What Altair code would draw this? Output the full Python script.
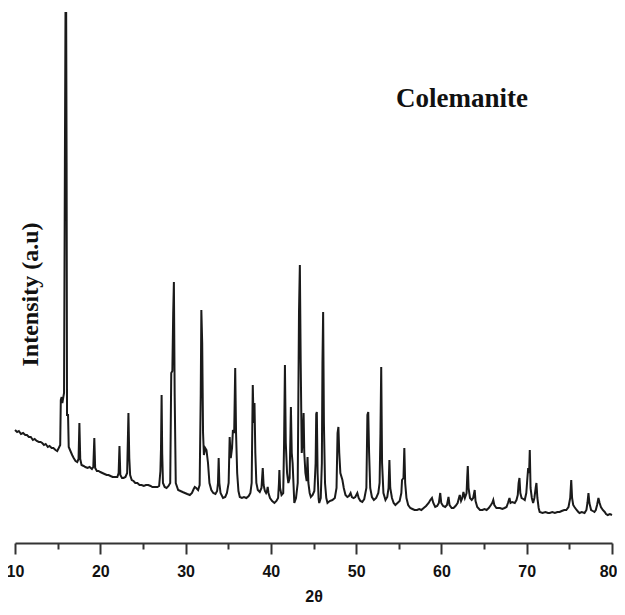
import altair as alt
import pandas as pd

# 2-theta positions (degrees)
two_theta = [
    10.00, 10.25, 10.45, 10.70, 10.95, 11.20, 11.40, 11.63, 11.85, 12.10,
    12.30, 12.55, 12.80, 13.00, 13.19, 13.40, 13.60, 13.85, 14.05, 14.30,
    14.50, 14.75, 14.95, 15.13, 15.30, 15.37, 15.47, 15.55, 15.75, 15.85,
    15.92, 16.00, 16.05, 16.10, 16.22, 16.30, 16.50, 16.70, 16.88, 17.10,
    17.30, 17.45, 17.55, 17.65, 17.80, 18.05, 18.25, 18.50, 18.75, 19.02,
    19.18, 19.30, 19.40, 19.60, 19.80, 20.00, 20.25, 20.50, 20.75, 20.97,
    21.20, 21.45, 21.75, 22.00, 22.15, 22.25, 22.35, 22.55, 22.72, 22.95,
    23.15, 23.30, 23.40, 23.50, 23.69, 23.90, 24.10, 24.35, 24.60, 24.85,
    25.10, 25.35, 25.63, 25.90, 26.10, 26.42, 26.70, 26.90, 27.05, 27.12,
    27.19, 27.26, 27.35, 27.55, 27.77, 28.00, 28.20, 28.32, 28.45, 28.55,
    28.63, 28.72, 28.85, 29.13, 29.40, 29.65, 29.92, 30.20, 30.50, 30.75,
    30.95, 31.08, 31.25, 31.47, 31.65, 31.78, 31.85, 31.95, 32.05, 32.15,
    32.30, 32.45, 32.63, 32.80, 33.02, 33.25, 33.50, 33.70, 33.80, 33.88,
    33.96, 34.10, 34.39, 34.65, 34.85, 35.05, 35.17, 35.30, 35.45, 35.55,
    35.70, 35.82, 35.92, 36.05, 36.20, 36.36, 36.60, 36.85, 37.13, 37.40,
    37.60, 37.75, 37.88, 37.98, 38.08, 38.18, 38.30, 38.47, 38.70, 38.90,
    39.05, 39.15, 39.30, 39.44, 39.55, 39.63, 39.72, 39.90, 40.15, 40.42,
    40.65, 40.85, 40.95, 41.00, 41.08, 41.25, 41.45, 41.55, 41.65, 41.75,
    41.90, 42.05, 42.20, 42.30, 42.35, 42.45, 42.55, 42.65, 42.75, 42.95,
    43.15, 43.30, 43.40, 43.50, 43.62, 43.72, 43.84, 43.92, 44.05, 44.20,
    44.30, 44.40, 44.55, 44.69, 44.90, 45.10, 45.25, 45.32, 45.39, 45.48,
    45.60, 45.67, 45.85, 45.98, 46.05, 46.13, 46.22, 46.35, 46.50, 46.64,
    46.90, 47.22, 47.50, 47.70, 47.82, 47.92, 48.02, 48.15, 48.39, 48.55,
    48.75, 48.97, 49.15, 49.35, 49.50, 49.70, 49.90, 50.14, 50.30, 50.50,
    50.72, 50.95, 51.20, 51.32, 51.42, 51.52, 51.65, 51.85, 52.08, 52.35,
    52.60, 52.75, 52.85, 52.94, 53.04, 53.20, 53.44, 53.65, 53.80, 53.90,
    54.00, 54.20, 54.40, 54.60, 54.85, 55.10, 55.30, 55.38, 55.55, 55.65,
    55.75, 55.90, 56.10, 56.35, 56.60, 56.85, 57.14, 57.40, 57.65, 57.92,
    58.20, 58.50, 58.70, 58.89, 59.05, 59.27, 59.50, 59.70, 59.86, 59.98,
    60.20, 60.44, 60.65, 60.83, 60.95, 61.20, 61.42, 61.65, 61.90, 62.05,
    62.15, 62.30, 62.45, 62.58, 62.75, 62.95, 63.02, 63.09, 63.18, 63.35,
    63.55, 63.72, 63.90, 64.00, 64.20, 64.52, 64.80, 65.05, 65.30, 65.55,
    65.80, 65.95, 66.08, 66.20, 66.45, 66.86, 67.15, 67.40, 67.63, 67.80,
    67.98, 68.10, 68.30, 68.60, 68.80, 68.95, 69.05, 69.15, 69.25, 69.40,
    69.60, 69.77, 69.95, 70.08, 70.17, 70.28, 70.36, 70.45, 70.60, 70.75,
    70.90, 71.05, 71.14, 71.25, 71.40, 71.52, 71.85, 72.20, 72.50, 72.69,
    73.00, 73.30, 73.60, 73.86, 74.10, 74.40, 74.64, 74.90, 75.10, 75.22,
    75.32, 75.45, 75.60, 75.85, 76.05, 76.19, 76.45, 76.78, 77.00, 77.12,
    77.24, 77.35, 77.55, 77.75, 77.94, 78.10, 78.25, 78.41, 78.55, 78.70,
    78.92, 79.15, 79.30, 79.50, 79.75, 80.00,
]

# intensity (arbitrary units)
intensity = [
    113, 111, 112, 109, 110, 108, 108, 106, 106, 103,
    104, 102, 101, 101, 100, 98, 99, 96, 97, 95,
    95, 93, 92, 95, 98, 143, 146, 140, 150, 380,
    530, 530, 380, 128, 128, 96, 92, 88, 85, 82,
    81, 84, 120, 84, 78, 77, 76, 75, 76, 74,
    76, 105, 75, 72, 72, 71, 70, 69, 68, 68,
    67, 66, 66, 66, 70, 97, 68, 65, 65, 66,
    70, 130, 85, 68, 63, 62, 60, 60, 58, 58,
    57, 58, 58, 57, 56, 56, 56, 57, 72, 95,
    148, 90, 60, 56, 55, 57, 60, 170, 172, 230,
    261, 150, 60, 53, 52, 51, 50, 49, 48, 50,
    54, 56, 55, 53, 58, 150, 233, 200, 110, 88,
    95, 93, 80, 60, 53, 50, 49, 52, 60, 85,
    60, 50, 45, 46, 50, 60, 106, 85, 95, 113,
    110, 175, 110, 70, 52, 46, 45, 46, 45, 47,
    50, 60, 158, 120, 140, 90, 60, 53, 51, 55,
    75, 58, 52, 50, 52, 56, 50, 45, 42, 40,
    42, 45, 60, 73, 55, 48, 50, 100, 178, 100,
    70, 60, 65, 110, 136, 90, 80, 60, 40, 45,
    60, 231, 278, 180, 90, 100, 130, 90, 70, 62,
    86, 60, 50, 46, 48, 52, 80, 129, 131, 70,
    44, 40, 45, 80, 180, 231, 120, 60, 45, 40,
    42, 43, 45, 55, 110, 116, 90, 70, 63, 55,
    48, 46, 47, 50, 46, 45, 46, 50, 45, 42,
    41, 44, 55, 128, 131, 90, 55, 46, 43, 45,
    50, 60, 110, 176, 80, 50, 43, 46, 55, 83,
    55, 45, 40, 38, 40, 42, 50, 63, 65, 95,
    60, 45, 38, 35, 34, 33, 33, 34, 33, 35,
    37, 40, 43, 45, 40, 36, 37, 40, 50, 40,
    37, 36, 38, 46, 38, 35, 35, 37, 40, 45,
    48, 42, 45, 51, 45, 50, 65, 77, 55, 45,
    43, 45, 53, 42, 36, 33, 33, 34, 33, 35,
    38, 40, 43, 38, 35, 35, 34, 35, 36, 40,
    45, 40, 41, 40, 43, 48, 60, 65, 50, 45,
    44, 43, 50, 65, 75, 70, 93, 55, 45, 40,
    45, 55, 60, 45, 35, 31, 30, 31, 30, 30,
    31, 30, 31, 31, 32, 33, 33, 36, 45, 63,
    45, 38, 36, 33, 31, 30, 31, 30, 33, 40,
    50, 40, 33, 32, 31, 33, 38, 45, 40, 36,
    33, 31, 29, 28, 29, 28,
]

x_ticks = [10, 15, 20, 25, 30, 35, 40, 45, 50, 55, 60, 65, 70, 75, 80]
sample_label = ["Colemanite"]

df = pd.DataFrame({"two_theta": two_theta, "intensity": intensity})
lab = pd.DataFrame({"label": sample_label})

line = alt.Chart(df).mark_line(
    color="#1a1a1a", strokeWidth=2.0, interpolate="linear"
).encode(
    x=alt.X(
        "two_theta:Q",
        scale=alt.Scale(domain=[10, 80], nice=False, zero=False),
        axis=alt.Axis(
            values=x_ticks,
            labelExpr="datum.value % 10 === 0 ? datum.label : ''",
            labelOverlap=False,
            labelFont="Liberation Sans",
            labelFontSize=16,
            labelFontWeight="bold",
            labelColor="#111",
            labelPadding=9,
            labelFlush=False,
            labelAlign={"condition": {"test": "datum.value === 80", "value": "right"}, "value": "center"},
            labelOffset={"condition": {"test": "datum.value === 80", "value": 5}, "value": 0},
            tickSize={"condition": {"test": "datum.value % 10 === 0", "value": 11}, "value": 6},
            tickColor="#333",
            tickWidth=2,
            domainColor="#333",
            domainWidth=2,
            grid=False,
            title="2θ",
            titleFont="Liberation Sans",
            titleFontSize=16,
            titleFontWeight="bold",
            titleColor="#111",
            titleY=53,
            titleBaseline="middle",
        ),
    ),
    y=alt.Y(
        "intensity:Q",
        scale=alt.Scale(domain=[0, 535], nice=False, zero=True),
        axis=alt.Axis(
            domain=False,
            ticks=False,
            labels=False,
            grid=False,
            title="Intensity (a.u)",
            titleFont="Liberation Serif",
            titleFontSize=24,
            titleFontWeight="bold",
            titleColor="#111",
            titleAngle=270,
            titleX=22,
            titleY=286,
            titleAlign="center",
            titleBaseline="alphabetic",
        ),
    ),
)

title_text = alt.Chart(lab).mark_text(
    font="Liberation Serif",
    fontSize=27,
    fontWeight="bold",
    color="#111",
    align="left",
    baseline="alphabetic",
).encode(
    text="label:N",
    x=alt.value(381),
    y=alt.value(99),
)

chart = alt.layer(line, title_text).properties(
    width=597,
    height=535,
    autosize=alt.AutoSizeParams(type="none"),
    padding={"left": 7, "top": 0, "right": 5, "bottom": 64},
).configure_view(stroke=None, strokeWidth=0)

chart.save("out.html", embed_options={"renderer": "svg", "actions": False})
